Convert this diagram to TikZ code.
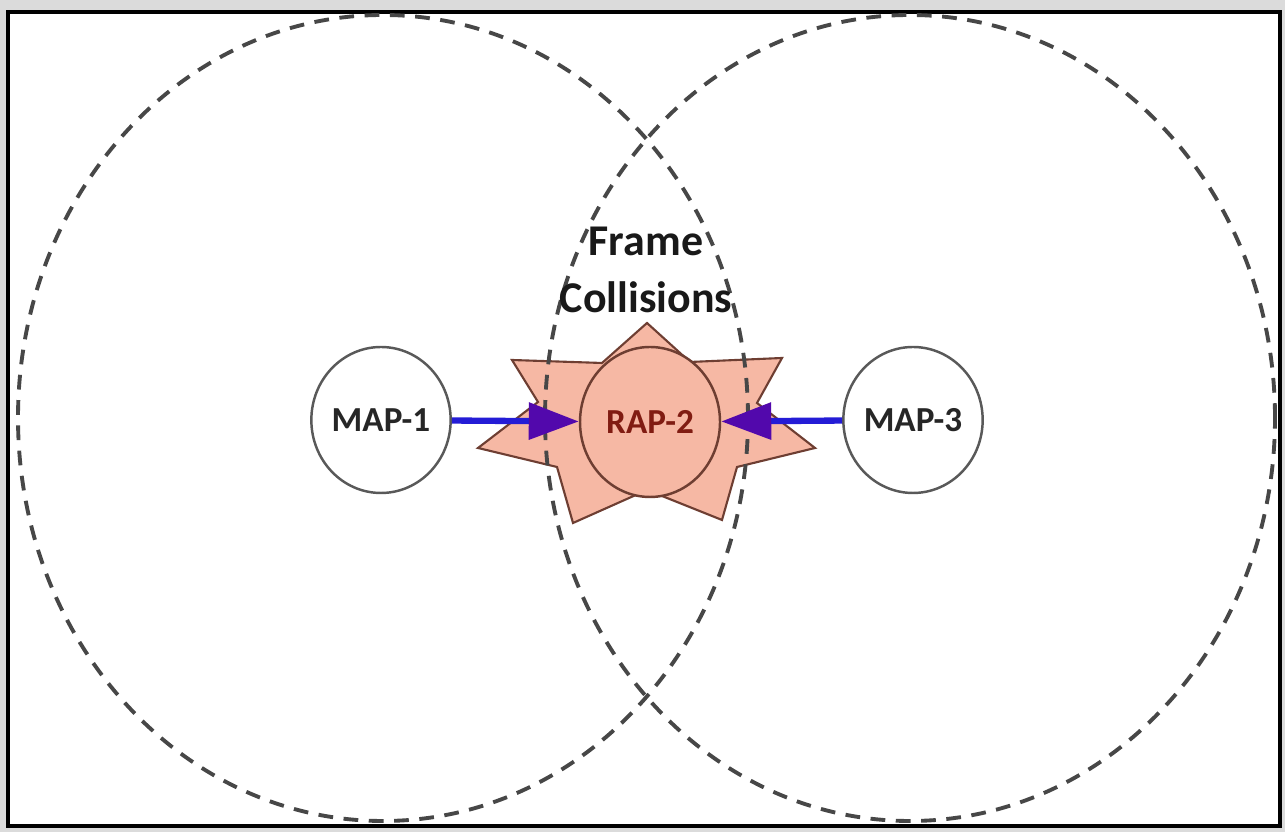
\documentclass[tikz,border=0pt]{standalone}
\usepackage{fontspec}
\setmainfont{Carlito}
\usetikzlibrary{shapes.geometric,arrows.meta}
\definecolor{star}{RGB}{246,184,164}
\definecolor{starline}{RGB}{110,62,50}
\definecolor{linkblue}{RGB}{36,28,214}
\definecolor{linktip}{RGB}{82,8,172}
\tikzset{
  ap/.style={ellipse, draw=black!65, line width=0.7pt, fill=white, inner sep=0pt,
    minimum width=1.30cm, minimum height=1.46cm, font=\bfseries\fontsize{10}{12}\selectfont, text=black!85},
  coverage/.style={dashed, dash pattern=on 4.2pt off 3pt, black!72, line width=1.1pt},
  link/.style={draw=linkblue, line width=1.8pt, -{Triangle[length=0.5cm, width=0.36cm, fill=linktip, color=linktip]}}
}

\begin{document}
\begin{tikzpicture}
\useasboundingbox (0,0) rectangle (12.85,8.32);
\fill[black!14] (0,0) rectangle (12.85,8.32);
\draw[line width=1pt, fill=white] (0.08,0.06) rectangle (12.80,8.20);
% collision zone
\draw[starline, line width=0.6pt, fill=star] (5.12,4.72) -- (6.02,4.69) -- (6.47,5.09) -- (6.90,4.70) -- (7.82,4.74) -- (7.57,4.29) -- (8.15,3.84) -- (7.37,3.65) -- (7.22,3.12) -- (6.47,3.42) -- (5.73,3.09) -- (5.57,3.65) -- (4.78,3.84) -- (5.38,4.30) -- cycle;
% coverage cells
\draw[coverage] (3.83,4.14) ellipse [x radius=3.65cm, y radius=4.03cm];
\draw[coverage] (9.10,4.14) ellipse [x radius=3.65cm, y radius=4.03cm];
\node[ap] (map1) at (3.81,4.12) {MAP-1};
\node[ap] (map3) at (9.13,4.12) {MAP-3};
\node[ap, draw=starline, fill=star, text={rgb,255:red,128;green,28;blue,18}, minimum width=1.40cm, minimum height=1.50cm] (rap2) at (6.50,4.10) {RAP-2};
\node[font=\bfseries\fontsize{12.5}{16}\selectfont, align=center, text=black!90] (coll) at (6.46,5.62) {Frame\\Collisions};
\draw[link] (map1) -- (rap2);
\draw[link] (map3) -- (rap2);
\end{tikzpicture}
\end{document}
